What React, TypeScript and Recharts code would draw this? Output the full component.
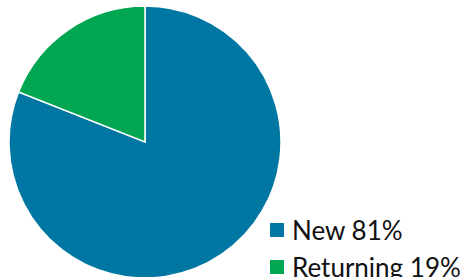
import { PieChart, Pie, Cell, Legend } from "recharts";

const labels = ["New", "Returning"];
const shares = [81, 19];
const colors = ["#0077a3", "#00a651"];

const data = labels.map((name, i) => ({ name, value: shares[i] }));

function LegendBox() {
  return (
    <div style={{ fontFamily: "Lato, sans-serif", fontSize: 26, color: "#111" }}>
      {data.map((d, i) => (
        <div
          key={d.name}
          style={{ display: "flex", alignItems: "center", height: 37 }}
        >
          <span
            style={{
              width: 14,
              height: 14,
              background: colors[i],
              marginRight: 8,
              display: "inline-block",
              flexShrink: 0
            }}
          />
          <span style={{ whiteSpace: "nowrap" }}>
            {d.name} {d.value}%
          </span>
        </div>
      ))}
    </div>
  );
}

export default function App() {
  return (
    <div style={{ position: "absolute", left: 0, top: 0, width: 463, height: 277, background: "#fff", overflow: "hidden" }}>
      <PieChart width={463} height={277} margin={{ top: 0, right: 0, bottom: 0, left: 0 }}>
        <Pie
          data={data}
          dataKey="value"
          nameKey="name"
          cx={145}
          cy={142}
          outerRadius={136}
          startAngle={90}
          endAngle={-270}
          stroke="#fff"
          strokeWidth={1.5}
          isAnimationActive={false}
        >
          {data.map((d, i) => (
            <Cell key={d.name} fill={colors[i]} />
          ))}
        </Pie>
        <Legend
          content={<LegendBox />}
          wrapperStyle={{ position: "absolute", left: 270, top: 211, width: 193 }}
        />
      </PieChart>
    </div>
  );
}
